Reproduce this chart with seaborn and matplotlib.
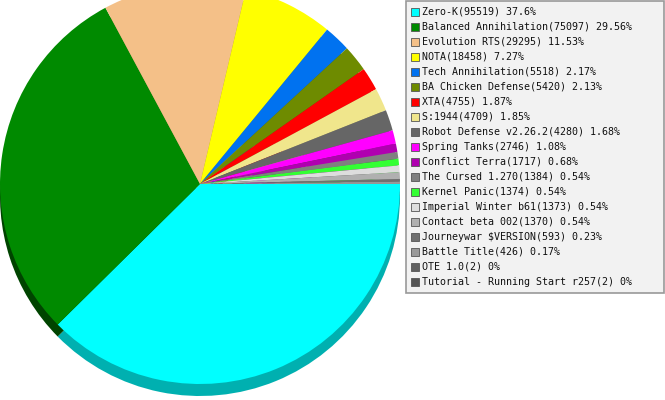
import matplotlib
matplotlib.use("Agg")
import matplotlib.pyplot as plt
from matplotlib.patches import Rectangle
import matplotlib.colors as mcolors
import seaborn as sns

names = ["Zero-K", "Balanced Annihilation", "Evolution RTS", "NOTA", "Tech Annihilation",
         "BA Chicken Defense", "XTA", "S:1944", "Robot Defense v2.26.2", "Spring Tanks",
         "Conflict Terra", "The Cursed 1.270", "Kernel Panic", "Imperial Winter b61",
         "Contact beta 002", "Journeywar $VERSION", "Battle Title", "OTE 1.0",
         "Tutorial - Running Start r257"]
counts = [95519, 75097, 29295, 18458, 5518, 5420, 4755, 4709, 4280, 2746,
          1717, 1384, 1374, 1373, 1370, 593, 426, 2, 2]
pcts = ["37.6", "29.56", "11.53", "7.27", "2.17", "2.13", "1.87", "1.85", "1.68", "1.08",
        "0.68", "0.54", "0.54", "0.54", "0.54", "0.23", "0.17", "0", "0"]
colors = ["#00FFFF", "#008A00", "#F4C088", "#FFFF00", "#0072F0", "#6E8B00", "#FF0000",
          "#F0E68C", "#666666", "#FF00FF", "#B000B0", "#808080", "#33FF33", "#DDDDDD",
          "#B0B0B0", "#707070", "#999999", "#606060", "#555555"]

sns.set_theme(style="white")
plt.rcParams['font.family'] = ['DejaVu Sans Mono', 'DejaVu Sans']

W, H = 665, 400
fig = plt.figure(figsize=(W / 100, H / 100), dpi=100)
fig.patch.set_facecolor("white")
ax = fig.add_axes([0, 0, 1, 1])

cx, cy, r = 200, H - 184, 200
depth = 12

def darken(c, f):
    rgb = mcolors.to_rgb(c)
    return tuple(v * f for v in rgb)

shadow = [darken(c, 0.69) for c in colors]
shadow[1] = "#004400"

ax.pie(counts, colors=shadow, startangle=0, counterclock=False,
       center=(cx, cy - depth), radius=r, wedgeprops=dict(linewidth=0), frame=True)
ax.pie(counts, colors=colors, startangle=0, counterclock=False,
       center=(cx, cy), radius=r, wedgeprops=dict(linewidth=0), frame=True)
ax.set_xlim(0, W)
ax.set_ylim(0, H)
ax.set_aspect("equal")
ax.axis("off")

# legend box
bx0, bx1, by_top, by_bot = 405.5, 664.3, 0.6, 293.3
ax.add_patch(Rectangle((bx0, H - by_bot), bx1 - bx0, by_bot - by_top,
                       facecolor="#F2F2F2", edgecolor="#999999", linewidth=1.2, zorder=5))
y0, dy = 11.8, 15.0
for i, (n, c, p, col) in enumerate(zip(names, counts, pcts, colors)):
    yc = H - (y0 + i * dy)
    ax.add_patch(Rectangle((411, yc - 4), 8, 8, facecolor=col, edgecolor="#555555",
                           linewidth=0.6, zorder=6))
    ax.text(422.5, yc, f"{n}({c}) {p}%", fontsize=7.2, color="#111111",
            va="center", ha="left", zorder=7)

fig.savefig("out.png", dpi=100, facecolor="white")
